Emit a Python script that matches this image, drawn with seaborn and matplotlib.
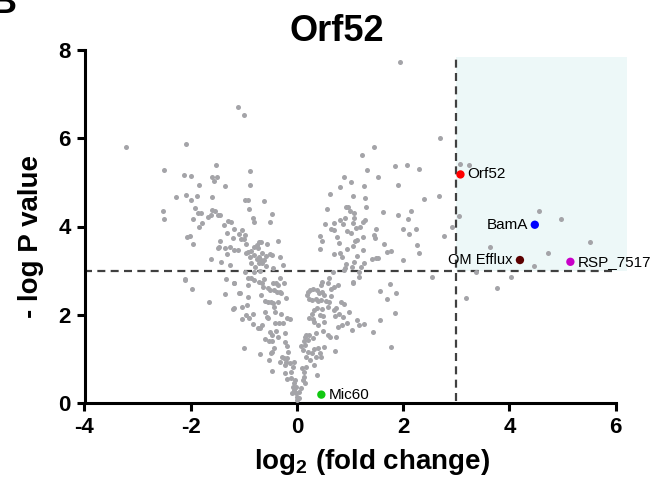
import matplotlib
matplotlib.use("Agg")
import matplotlib.pyplot as plt
from matplotlib.patches import Rectangle
import seaborn as sns
import pandas as pd

# ---------------- data ----------------
# background proteins: log2 fold change / -log10 P
left_fc = [-1.11, -0.99, -3.21, -2.08, -2.50, -1.53, -2.12, -2.00, -0.89, -1.60, -1.51, -1.56, -1.85, -1.35,
           -0.89, -2.28, -2.09, -1.99, -1.88, -1.60, -0.97, -0.93, -0.62, -1.92, -2.52, -0.90, -0.47, -1.87,
           -1.81, -1.59, -1.54, -2.50, -1.96, -1.68, -1.62, -1.49, -1.44, -0.83, -0.80, -0.51, -1.78, -1.84,
           -1.37, -1.29, -1.24, -1.19, -1.04,
           -1.31, -1.21, -1.09, -0.97, -1.05, -1.00, -0.95, -0.72, -0.67, -0.57, -0.35, -2.07, -2.02, -1.96,
           -1.45, -1.47, -1.48, -1.35, -1.26, -1.19, -1.10, -0.96, -0.92, -0.87, -0.80, -0.76, -0.74, -0.65,
           -1.32, -1.61, -1.43, -1.26, -0.88, -0.80, -0.75, -0.72, -0.68, -0.62, -0.58, -0.50, -0.46, -0.31,
           -0.26, -0.87, -0.78, -0.72, -0.65, -0.59, -0.45, -0.70, -0.98, -0.80, -0.93, -2.10, -2.10, -1.98,
           -1.34, -1.19, -0.93, -0.87, -0.80, -0.71, -0.65, -0.62, -0.64, -0.55, -0.45, -0.40, -0.35, -0.31,
           -0.24, -0.51, -0.43, -0.38, -0.32, -0.30, -1.36, -1.08, -0.93, -0.68, -0.61, -0.55, -0.49, -0.45,
           -0.36, -0.21, -1.66, -1.21, -1.04, -0.94, -0.82, -1.03, -0.95, -0.60, -0.57, -0.55, -0.43, -0.41,
           -0.30, -0.18, -0.13, -0.41, -0.33, -0.27, -0.74, -0.70, -0.51, -0.46, -0.36, -0.61, -0.53, -0.46,
           -0.23, -0.22, -0.19, -0.99, -0.44, -0.70, -0.49, -0.47, -0.16, -0.31, -0.25, -0.21, -0.18, -0.13,
           -0.23, -0.46, -0.23, -0.19,
           -1.19, -1.09, -1.18, -0.83, -0.66, -0.40, -0.28, -0.52, -0.90]
left_p = [6.70, 6.52, 5.80, 5.88, 5.27, 5.39, 5.16, 5.15, 5.26, 5.13, 5.12, 5.04, 4.94, 4.92,
          4.93, 4.66, 4.71, 4.60, 4.69, 4.67, 4.60, 4.60, 4.57, 4.43, 4.36, 4.40, 4.29, 4.30,
          4.30, 4.38, 4.35, 4.17, 4.18, 4.22, 4.25, 4.27, 4.25, 4.20, 4.10, 4.10, 4.07, 3.98,
          4.03, 4.13, 4.10, 3.95, 3.92,
          3.86, 3.73, 3.83, 3.80, 3.71, 3.72, 3.61, 3.64, 3.64, 3.60, 3.67, 3.76, 3.79, 3.61,
          3.67, 3.54, 3.51, 3.51, 3.54, 3.47, 3.47, 3.39, 3.42, 3.45, 3.54, 3.58, 3.51, 3.39,
          3.38, 3.26, 3.19, 3.13, 3.32, 3.36, 3.27, 3.32, 3.23, 3.23, 3.33, 3.37, 3.36, 3.30,
          3.13, 3.17, 3.09, 3.17, 3.17, 3.11, 3.07, 3.00, 2.96, 2.98, 2.83, 2.82, 2.78, 2.59,
          2.81, 2.72, 2.68, 2.83, 2.79, 2.74, 2.71, 2.82, 2.64, 2.60, 2.72, 2.71, 2.68, 2.83,
          2.73, 2.56, 2.55, 2.51, 2.52, 2.49, 2.47, 2.49, 2.40, 2.45, 2.32, 2.30, 2.30, 2.26,
          2.30, 2.37, 2.30, 2.13, 2.18, 2.21, 2.01, 1.90, 2.00, 2.07, 1.96, 1.92, 2.17, 2.07,
          2.01, 1.92, 1.90, 1.81, 1.81, 1.82, 1.69, 1.69, 1.62, 1.54, 1.49, 1.44, 1.41, 1.41,
          1.58, 1.39, 1.29, 1.25, 1.24, 1.10, 1.13, 1.16, 1.16, 0.92, 1.01, 0.94, 1.03, 0.90,
          0.85, 0.73, 0.67, 0.54,
          2.15, 2.49, 2.71, 1.80, 1.77, 1.63, 1.05, 0.98, 1.92]

right_fc = [1.95, 2.69, 1.45, 1.23, 1.85, 2.07, 2.29, 1.32, 0.89, 1.53, 1.02, 0.82, 1.26, 1.91,
            0.63, 1.05, 1.29, 2.39, 2.68, 0.56, 0.92, 0.97, 1.00, 1.07, 1.30, 1.62, 1.91, 2.15,
            2.10, 0.90, 1.07, 0.82, 1.28, 1.24, 0.52, 0.69, 0.86, 1.05, 1.19, 0.64, 1.49, 1.99,
            2.92, 3.06, 3.07, 3.24, 2.24, 1.11,
            4.56, 4.98, 3.64, 5.52, 4.73, 4.46, 3.38, 4.04, 3.76, 3.18,
            2.12, 2.77, 0.44, 0.48, 0.70, 0.75, 0.95, 1.02, 1.13, 1.24, 1.46, 1.47, 1.64, 0.44,
            0.80, 0.82, 0.70, 0.85, 0.95, 1.05, 1.09, 1.24, 1.13, 1.48, 1.52, 1.42, 1.69, 1.77,
            2.29, 2.27, 2.00, 0.92, 1.08, 1.27, 1.21, 1.04, 0.91, 0.88, 0.68, 0.61, 0.48, 0.46,
            0.58, 1.17, 1.05, 1.05, 1.16, 2.55, 1.57, 1.75, 1.87, 1.69, 1.85, 1.56, 1.44, 1.78]
right_p = [7.72, 6.00, 5.80, 5.62, 5.36, 5.40, 5.31, 5.27, 5.12, 5.12, 5.00, 4.89, 4.91, 4.95,
           4.73, 4.68, 4.65, 4.63, 4.68, 4.40, 4.45, 4.44, 4.36, 4.30, 4.44, 4.33, 4.26, 4.34,
           4.18, 4.20, 4.20, 4.14, 4.15, 4.11, 4.05, 4.07, 4.05, 4.07, 3.99, 3.95, 3.95, 3.95,
           3.99, 4.23, 5.42, 5.40, 3.94, 3.97,
           4.35, 4.17, 3.54, 3.65, 3.41, 3.11, 2.96, 2.86, 2.61, 2.37,
           3.83, 3.79, 3.79, 3.68, 3.92, 3.76, 3.89, 3.85, 3.70, 3.76, 3.81, 3.73, 3.61, 3.48,
           3.62, 3.39, 3.38, 3.32, 3.48, 3.56, 3.68, 3.47, 3.33, 3.28, 3.28, 3.27, 3.43, 3.45,
           3.39, 3.57, 3.24, 3.15, 3.20, 3.17, 3.09, 3.09, 3.05, 3.02, 2.96, 2.83, 2.75, 2.68,
           2.71, 2.85, 2.75, 2.71, 2.98, 2.86, 2.54, 2.69, 2.50, 2.36, 2.03, 1.88, 1.61, 1.27]

center_fc = [0.20, 0.25, 0.30, 0.38, 0.42, 0.48, 0.51, 0.19, 0.23, 0.28, 0.36, 0.40, 0.45, 0.55,
             0.61, 0.64, 0.70, 0.64, 0.77, 0.83, 0.89, 0.99, 0.73, 0.69, 0.72, 0.80, 0.86, 0.58,
             0.48, 0.38, 0.33, 0.28, 0.23, 0.30, 0.44, 0.50, 0.51, 0.40, 0.33, 0.95, 1.14, 1.16,
             1.27, 1.04, 0.85, 0.77, 0.50, 0.58, 0.63, 0.73, 0.72, 0.51, 0.44, 0.39, 0.33, 0.28,
             0.20, 0.17, 0.36, 0.46, 0.25, 0.33, 0.38, 0.15, 0.17, 0.13, 0.15, 0.08, 0.11, 0.20,
             0.23, 0.30, 0.36, 0.17, 0.09, 0.14, 0.13, 0.15, 0.08, 0.04, -0.02, 0.00, -0.05, -0.08,
             -0.06, -0.11, -0.04, 0.01, 0.03, -0.10, 0.11, -0.02, -0.11, -0.08, -0.05]
center_p = [2.52, 2.55, 2.59, 2.56, 2.50, 2.52, 2.45, 2.45, 2.36, 2.34, 2.35, 2.31, 2.34, 2.32,
            2.30, 2.43, 2.64, 2.58, 2.68, 2.30, 2.24, 2.07, 2.15, 2.11, 1.97, 2.01, 1.96, 2.18,
            2.12, 2.15, 2.11, 2.02, 1.92, 1.90, 2.00, 1.98, 1.84, 1.77, 1.84, 1.81, 1.88, 1.77,
            1.78, 1.66, 1.76, 1.73, 1.63, 1.54, 1.50, 1.49, 1.18, 1.26, 1.14, 1.24, 1.22, 1.13,
            1.16, 1.05, 1.04, 1.05, 0.98, 0.86, 0.63, 1.50, 1.54, 1.41, 1.32, 1.29, 1.20, 1.43,
            1.54, 1.47, 1.58, 0.82, 0.79, 0.71, 0.60, 0.45, 0.33, 0.26, 0.22, 0.07, 0.29, 0.37,
            0.45, 0.56, 0.52, 0.14, 0.11, 0.23, 0.52, 0.37, 0.71, 0.82, 0.94]

# highlighted proteins
hl_names = ["Orf52", "BamA", "OM Efflux", "RSP_7517", "Mic60"]
hl_fc = [3.08, 4.48, 4.20, 5.15, 0.46]
hl_p = [5.18, 4.04, 3.24, 3.20, 0.19]
hl_colors = ["#ff0000", "#0000ff", "#5c0000", "#c800c8", "#11c811"]
hl_side = ["right", "left", "left", "right", "right"]

fc_cut = 3.0
p_cut = 3.0
x_ticks = [-4, -2, 0, 2, 4, 6]
y_ticks = [0, 2, 4, 6, 8]

# ---------------- plot ----------------
sns.set_style("white")
plt.rcParams["font.family"] = ["Liberation Sans", "DejaVu Sans"]
plt.rcParams["mathtext.fontset"] = "custom"
plt.rcParams["mathtext.rm"] = "Liberation Sans:bold"
plt.rcParams["mathtext.bf"] = "Liberation Sans:bold"
plt.rcParams["mathtext.it"] = "Liberation Sans:bold"
for key in ["text.color", "axes.labelcolor", "xtick.color", "ytick.color"]:
    plt.rcParams[key] = "black"

bg = pd.DataFrame({"fc": left_fc + right_fc + center_fc,
                   "p": left_p + right_p + center_p})
hl = pd.DataFrame({"name": hl_names, "fc": hl_fc, "p": hl_p})

fig = plt.figure(figsize=(6.52, 4.84), dpi=100)
ax = fig.add_axes([84.5 / 652, 81 / 484, 544.3 / 652, 353 / 484])

ax.add_patch(Rectangle((fc_cut, p_cut), 3.21, 4.85, facecolor="#edf8f8",
                       edgecolor="none", zorder=0))

sns.scatterplot(data=bg, x="fc", y="p", color="#a4a4a8", s=13, linewidth=0,
                ax=ax, zorder=3, clip_on=False)
sns.scatterplot(data=hl, x="fc", y="p", hue="name", palette=hl_colors,
                hue_order=hl_names, s=36, linewidth=0, ax=ax, zorder=4,
                legend=False, clip_on=False)

ax.plot([fc_cut, fc_cut], [0.05, 7.85], color="#404040", lw=1.6,
        dashes=(3.6, 2.4), zorder=2)
ax.plot([-4, 6], [p_cut, p_cut], color="#404040", lw=1.6,
        dashes=(3.6, 2.4), zorder=2)

for name, x, y, side in zip(hl_names, hl_fc, hl_p, hl_side):
    off = 5 if side == "right" else -5
    ax.annotate(name, (x, y), xytext=(off, 0), textcoords="offset points",
                ha="left" if side == "right" else "right", va="center",
                fontsize=11 if name != "OM Efflux" else 10.5, color="black",
                zorder=5)

ax.set_xlim(-4, 6.25)
ax.set_ylim(0, 8)
ax.set_xticks(x_ticks)
ax.set_yticks(y_ticks)
ax.set_xticklabels([str(t) for t in x_ticks], fontsize=16, fontweight="bold")
ax.set_yticklabels([str(t) for t in y_ticks], fontsize=16, fontweight="bold")
ax.tick_params(axis="both", which="major", direction="out", length=6, width=2.2,
               pad=4, color="black", labelcolor="black", bottom=True, left=True)
for side in ["top", "right"]:
    ax.spines[side].set_visible(False)
for side in ["left", "bottom"]:
    ax.spines[side].set_linewidth(2.2)
    ax.spines[side].set_color("black")
ax.spines["left"].set_bounds(0, 8)
ax.spines["bottom"].set_bounds(-4, 6)
ax.set_xlabel("")
ax.set_ylabel("")

fig.text(337 / 652, 1 - 41 / 484, "Orf52", ha="center", va="baseline",
         fontsize=26, fontweight="bold", color="black")
fig.text(372 / 652, 1 - 469 / 484, r"log$_{2}$ (fold change)", ha="center",
         va="baseline", fontsize=20, fontweight="bold", color="black")
fig.text(31 / 652, 1 - 237 / 484, "- log P value", ha="center", va="center",
         rotation=90, fontsize=20, fontweight="bold", color="black")
fig.text(-9 / 652, 1 - 13 / 484, "B", ha="left", va="baseline",
         fontsize=26, fontweight="bold", color="black")

fig.savefig("out.png", dpi=100)
